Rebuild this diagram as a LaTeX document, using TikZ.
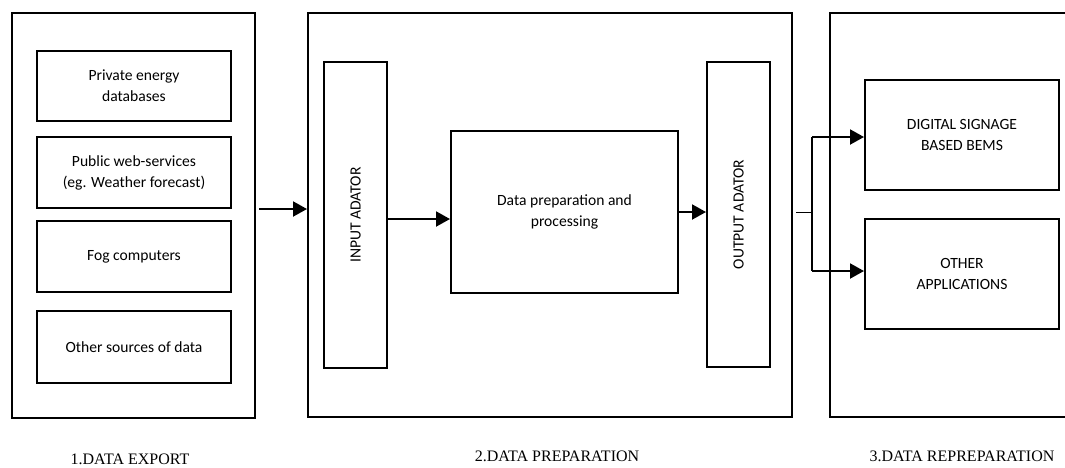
\documentclass[tikz,border=0pt]{standalone}
\usepackage{fontspec}
\setmainfont{Carlito}
\newfontfamily\capfont{Liberation Serif}
\usetikzlibrary{arrows.meta}
\newcommand\bxfont{\fontsize{15.6}{21}\selectfont}
\newcommand\lblfont{\capfont\fontsize{16}{19}\selectfont}

\begin{document}
\begin{tikzpicture}[x=1pt,y=-1pt,
  panel/.style={draw,line width=2pt,inner sep=0pt},
  box/.style={draw,line width=2pt,inner sep=0pt,align=center,font=\bxfont},
  vtext/.style={rotate=90,inner sep=0pt,font=\bxfont},
  stagelbl/.style={anchor=base,inner sep=0pt,font=\lblfont},
  arr/.style={line width=2pt,-{Triangle[length=14pt,width=15pt]}},
  stub/.style={line width=0.9pt},
  bracket/.style={line width=1.3pt}]
\useasboundingbox (0,0) rectangle (1065,467);
\clip (0,0) rectangle (1065,467);

% stage 1: data sources
\node[panel,minimum width=243,minimum height=405] (lp) at (133.5,215.5) {};
\node[box,minimum width=194,minimum height=70] (s1) at (134,86) {Private energy\\databases};
\node[box,minimum width=194,minimum height=71] (s2) at (134,172.5) {Public web-services\\(eg. Weather forecast)};
\node[box,minimum width=194,minimum height=71] (s3) at (134,256.5) {Fog computers};
\node[box,minimum width=194,minimum height=72] (s4) at (134,347) {Other sources of data};

% stage 2: preparation
\node[panel,minimum width=484,minimum height=404] (mp) at (550,215) {};
\node[box,minimum width=63,minimum height=306] (ia) at (355.5,215) {};
\node[vtext] (ialbl) at (ia) {INPUT ADATOR};
\node[box,minimum width=227,minimum height=162] (dp) at (564.5,212) {Data preparation and\\processing};
\node[box,minimum width=63,minimum height=305] (oa) at (738.5,214.5) {};
\node[vtext] (oalbl) at (oa) {OUTPUT ADATOR};

% stage 3: applications
\node[panel,minimum width=260,minimum height=404] (rp) at (960,215) {};
\node[box,minimum width=194,minimum height=110] (r1) at (962,135) {DIGITAL SIGNAGE\\BASED BEMS};
\node[box,minimum width=194,minimum height=110] (r2) at (962,274) {OTHER\\APPLICATIONS};

% connectors
\coordinate (src) at (259,209);
\draw[arr] (src) -- (src -| mp.west);
\draw[arr] ([yshift=-4pt]ia.east) -- ([yshift=-4pt]ia.east -| dp.west);
\draw[arr] (dp.east) -- (dp.east -| oa.west);

\coordinate (sp) at (812,212);
\coordinate (mpe) at ([xshift=3pt]mp.east);
\coordinate (t1) at ([yshift=-2pt]r1.west);
\coordinate (t2) at ([yshift=3pt]r2.west);
\draw[stub] (mpe |- sp) -- (sp);
\draw[bracket] (sp |- t1) -- (sp |- t2);
\draw[arr] (sp |- t1) -- (t1);
\draw[arr] (sp |- t2) -- (t2);

% stage captions
\node[stagelbl] (c1) at (130,464) {1.DATA EXPORT};
\node[stagelbl] (c2) at (557,461) {2.DATA PREPARATION};
\node[stagelbl] (c3) at (962,461) {3.DATA REPREPARATION};
\end{tikzpicture}
\end{document}
